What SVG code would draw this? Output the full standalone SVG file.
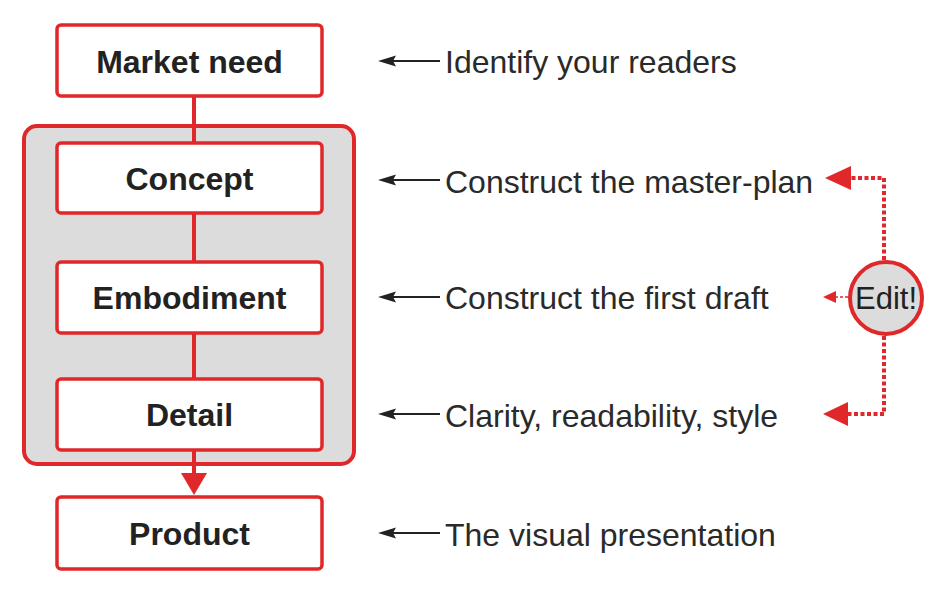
<svg xmlns="http://www.w3.org/2000/svg" width="941" height="608" viewBox="0 0 941 608">
<defs>
<style>
.node{fill:#fff;stroke:#e0282a;stroke-width:3.5}
.nlabel{font-family:"Liberation Sans",Arial,sans-serif;font-weight:bold;font-size:32px;fill:#222;text-anchor:middle}
.rlabel{font-family:"Liberation Sans",Arial,sans-serif;font-size:32px;fill:#2a2a2a}
.flow{stroke:#e0282a;stroke-width:4;fill:none}
.note{stroke:#222;stroke-width:1.8;fill:none}
.dot{stroke:#e0282a;stroke-width:4;fill:none;stroke-dasharray:4 2.5}
.dotthin{stroke:#e0282a;stroke-width:1.5;fill:none;stroke-dasharray:3 2}
.redhead{fill:#e0282a}
</style>
</defs>
<rect width="941" height="608" fill="#fff"/>
<g id="container">
<rect x="24" y="126" width="330" height="338" rx="13" fill="#dcdcdc" stroke="#e0282a" stroke-width="4"/>
</g>
<g id="connectors">
<line class="flow" x1="194" y1="96" x2="194" y2="143"/>
<line class="flow" x1="194" y1="213" x2="194" y2="262"/>
<line class="flow" x1="194" y1="333" x2="194" y2="379"/>
<line class="flow" x1="194" y1="450" x2="194" y2="476"/>
<polygon class="redhead" points="181,473 207,473 194,495"/>
<g id="notes">
<line class="note" x1="390" y1="61" x2="440" y2="61"/>
<polygon fill="#222" points="378,61 396,55.5 393,61 396,66.5"/>
<line class="note" x1="390" y1="180" x2="440" y2="180"/>
<polygon fill="#222" points="378,180 396,174.5 393,180 396,185.5"/>
<line class="note" x1="390" y1="297" x2="440" y2="297"/>
<polygon fill="#222" points="378,297 396,291.5 393,297 396,302.5"/>
<line class="note" x1="390" y1="414" x2="440" y2="414"/>
<polygon fill="#222" points="378,414 396,408.5 393,414 396,419.5"/>
<line class="note" x1="390" y1="533" x2="440" y2="533"/>
<polygon fill="#222" points="378,533 396,527.5 393,533 396,538.5"/>
</g>
<g id="edit-links">
<polyline class="dot" points="884,260 884,178 851,178"/>
<polygon class="redhead" points="825,178 851,166 851,190"/>
<polyline class="dot" points="884,336 884,414 848,414"/>
<polygon class="redhead" points="823,414 848,402 848,426"/>
<line class="dotthin" x1="835" y1="297" x2="849" y2="297"/>
<polygon class="redhead" points="823,297 836,291 836,303"/>
</g>
</g>
<g id="market-need">
<rect class="node" x="57" y="25" width="265" height="71" rx="4"/>
<text class="nlabel" x="189.5" y="72.5">Market need</text>
</g>
<g id="concept">
<rect class="node" x="57" y="143" width="265" height="70" rx="4"/>
<text class="nlabel" x="189.5" y="190">Concept</text>
</g>
<g id="embodiment">
<rect class="node" x="57" y="262" width="265" height="71" rx="4"/>
<text class="nlabel" x="189.5" y="309">Embodiment</text>
</g>
<g id="detail">
<rect class="node" x="57" y="379" width="265" height="71" rx="4"/>
<text class="nlabel" x="189.5" y="426">Detail</text>
</g>
<g id="product">
<rect class="node" x="57" y="497" width="265" height="72" rx="4"/>
<text class="nlabel" x="189.5" y="545">Product</text>
</g>
<g id="labels">
<text class="rlabel" x="445" y="73">Identify your readers</text>
<text class="rlabel" x="445" y="192.5">Construct the master-plan</text>
<text class="rlabel" x="445" y="309">Construct the first draft</text>
<text class="rlabel" x="445" y="426.5">Clarity, readability, style</text>
<text class="rlabel" x="445" y="545.5">The visual presentation</text>
</g>
<g id="edit">
<circle cx="886" cy="298" r="36" fill="#dcdcdc" stroke="#e0282a" stroke-width="4"/>
<text x="886" y="309" font-family="Liberation Sans, Arial, sans-serif" font-size="31" fill="#222" text-anchor="middle">Edit!</text>
</g>
</svg>
